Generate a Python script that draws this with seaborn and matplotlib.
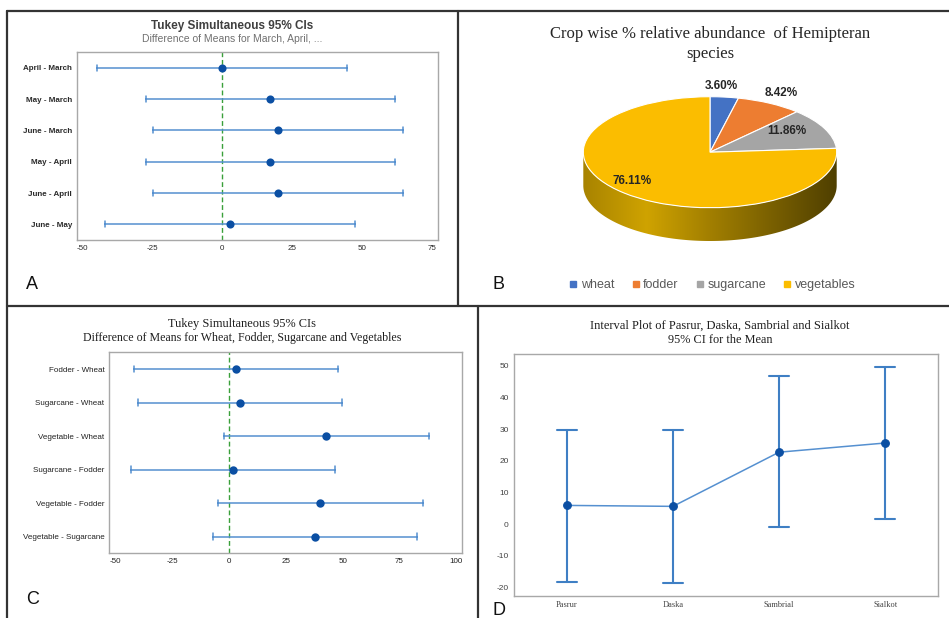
import numpy as np
import pandas as pd
import matplotlib
matplotlib.use("Agg")
import matplotlib.pyplot as plt
import seaborn as sns
from matplotlib.lines import Line2D
from matplotlib.patches import Polygon
from matplotlib.colors import LinearSegmentedColormap

# =====================================================================
# DATA
# =====================================================================
# A: Tukey CIs for months
pairs_A = ["April - March", "May - March", "June - March", "May - April", "June - April", "June - May"]
a_low = [-44.7, -27.3, -24.9, -27.3, -24.9, -41.9]
a_mean = [0.0, 17.2, 19.9, 17.2, 20.0, 2.8]
a_high = [44.7, 62.0, 64.8, 62.0, 64.8, 47.7]

# B: crop wise % relative abundance
crops = ["wheat", "fodder", "sugarcane", "vegetables"]
crop_share = [3.60, 8.42, 11.86, 76.11]
crop_labels = ["3.60%", "8.42%", "11.86%", "76.11%"]

# C: Tukey CIs for crops
pairs_C = ["Fodder - Wheat", "Sugarcane - Wheat", "Vegetable - Wheat",
           "Sugarcane - Fodder", "Vegetable - Fodder", "Vegetable - Sugarcane"]
c_low = [-42.0, -40.2, -2.3, -43.0, -4.9, -7.1]
c_mean = [2.9, 4.7, 42.7, 1.9, 40.1, 37.9]
c_high = [48.0, 49.7, 88.1, 46.8, 85.2, 82.9]

# D: interval plot per site
sites = ["Pasrur", "Daska", "Sambrial", "Sialkot"]
d_low = [-18.2, -18.5, -1.0, 1.5]
d_mean = [5.9, 5.6, 22.7, 25.6]
d_high = [29.7, 29.7, 46.8, 49.7]

# =====================================================================
# STYLE
# =====================================================================
sns.set_style("white")
plt.rcParams["font.family"] = ["Liberation Sans", "DejaVu Sans"]
plt.rcParams["axes.unicode_minus"] = False
SERIF = ["Liberation Serif", "DejaVu Serif"]

W, H = 949, 618
DARK_BLUE = "#0b4fa3"
LIGHT_BLUE = "#5590d0"
GREEN = "#3aa03a"
FRAME = "#a8a8a8"
crop_colors = ["#4472c4", "#ed7d31", "#a5a5a5", "#fbbd00"]


def px(x, y):
    return x / W, 1 - y / H


def box(x0, y0, x1, y1):
    return [x0 / W, 1 - y1 / H, (x1 - x0) / W, (y1 - y0) / H]


def interval_frame(names, low, mid, high, label):
    # three rows per group -> median is the mean, 100% interval is the CI
    return pd.DataFrame({
        label: np.repeat(names, 3),
        "value": np.column_stack([low, mid, high]).ravel(),
    })


def style_frame(ax):
    for s in ax.spines.values():
        s.set_color(FRAME)
        s.set_linewidth(1.0)
    ax.tick_params(length=2, width=0.6, color="#888888", pad=1.5)


fig = plt.figure(figsize=(W / 100, H / 100), dpi=100)

# =====================================================================
# A
# =====================================================================
axA = fig.add_axes(box(77, 52, 438, 240))
dfA = interval_frame(pairs_A, a_low, a_mean, a_high, "pair")
sns.pointplot(data=dfA, x="value", y="pair", order=pairs_A, estimator="median",
              errorbar=("pi", 100), linestyle="none", color=DARK_BLUE,
              markers="o", markersize=3.8, capsize=0.19,
              err_kws={"color": LIGHT_BLUE, "linewidth": 1.1}, ax=axA)
axA.lines[0].set_zorder(4)
axA.axvline(0, color=GREEN, lw=1.0, ls=(0, (3.5, 2)), zorder=1)
axA.set_xlim(-52, 77.3)
axA.set_xticks([-50, -25, 0, 25, 50, 75])
axA.set_xlabel("")
axA.set_ylabel("")
style_frame(axA)
axA.tick_params(axis="both", labelsize=5.8, labelcolor="#2a2a2a")
for t in axA.get_yticklabels():
    t.set_fontweight("bold")

fig.text(*px(232, 26), "Tukey Simultaneous 95% CIs", ha="center", va="center",
         fontsize=8.5, fontweight="bold", color="#404040")
fig.text(*px(232, 39.5), "Difference of Means for March, April, ...", ha="center",
         va="center", fontsize=7.5, color="#707070")

# =====================================================================
# B (3D-looking pie)
# =====================================================================
depth = 0.6
axB = fig.add_axes(box(583.3, 96.7, 836.7, 96.7 + 55.5 * (2 + depth)))
t = np.linspace(np.pi, 2 * np.pi, 300)
side_x = np.concatenate([np.cos(t), np.cos(t[::-1])])
side_y = np.concatenate([np.sin(t), np.sin(t[::-1]) - depth])
side = Polygon(np.column_stack([side_x, side_y]), closed=True, facecolor="none", edgecolor="none")
axB.add_patch(side)
side_cmap = LinearSegmentedColormap.from_list(
    "side", [(0, "#a88300"), (0.25, "#cfa300"), (0.5, "#a27f00"), (1, "#4f3f00")])
grad = axB.imshow(np.linspace(0, 1, 256)[None, :], cmap=side_cmap, aspect="auto",
                  extent=(-1, 1, -1 - depth, 0), zorder=0)
grad.set_clip_path(side)
axB.pie(crop_share, colors=crop_colors, startangle=90, counterclock=False, radius=1,
        wedgeprops={"edgecolor": "white", "linewidth": 0.8})
axB.set_aspect("auto")
axB.set_xlim(-1, 1)
axB.set_ylim(-1 - depth, 1)
axB.axis("off")

label_pos = [(0.087, 1.19), (0.56, 1.07), (0.61, 0.38), (-0.615, -0.52)]
for (lx, ly), lab in zip(label_pos, crop_labels):
    axB.text(lx, ly, lab, ha="center", va="center", fontsize=8.5,
             fontweight="bold", color="#262626")

fig.text(*px(710, 44), "Crop wise % relative abundance  of Hemipteran\nspecies",
         ha="center", va="center", fontsize=12, family=SERIF, color="#262626",
         linespacing=1.3)

handles = [Line2D([], [], marker="s", ls="none", markersize=4, color=c) for c in crop_colors]
fig.legend(handles, crops, loc="center", bbox_to_anchor=px(712, 285), ncol=4,
           frameon=False, fontsize=9, handletextpad=0.2, columnspacing=1.3,
           handlelength=0.8, labelcolor="#595959")

# =====================================================================
# C
# =====================================================================
axC = fig.add_axes(box(109.3, 352.3, 462.3, 553.3))
dfC = interval_frame(pairs_C, c_low, c_mean, c_high, "pair")
sns.pointplot(data=dfC, x="value", y="pair", order=pairs_C, estimator="median",
              errorbar=("pi", 100), linestyle="none", color=DARK_BLUE,
              markers="o", markersize=4, capsize=0.19,
              err_kws={"color": LIGHT_BLUE, "linewidth": 1.1}, ax=axC)
axC.lines[0].set_zorder(4)
axC.axvline(0, color=GREEN, lw=1.0, ls=(0, (3.5, 2)), zorder=1)
axC.set_xlim(-52.7, 102.7)
axC.set_xticks([-50, -25, 0, 25, 50, 75, 100])
axC.set_xlabel("")
axC.set_ylabel("")
style_frame(axC)
axC.tick_params(axis="both", labelsize=5.8, labelcolor="#222222")

fig.text(*px(242, 324.5), "Tukey Simultaneous 95% CIs", ha="center", va="center",
         fontsize=8.9, family=SERIF, color="#1e1e1e")
fig.text(*px(242, 338.5), "Difference of Means for Wheat, Fodder, Sugarcane and Vegetables",
         ha="center", va="center", fontsize=8.6, family=SERIF, color="#1e1e1e")

# =====================================================================
# D
# =====================================================================
axD = fig.add_axes(box(513.7, 354.3, 938.3, 595.7))
dfD = interval_frame(sites, d_low, d_mean, d_high, "site")
sns.pointplot(data=dfD, x="site", y="value", order=sites, estimator="median",
              errorbar=("pi", 100), color=DARK_BLUE, markers="o", markersize=5.5,
              linewidth=1.1, capsize=0.19,
              err_kws={"color": "#3f7fc4", "linewidth": 1.5}, ax=axD)
mean_line = axD.lines[0]
mean_line.set_color(LIGHT_BLUE)
mean_line.set_markerfacecolor(DARK_BLUE)
mean_line.set_markeredgecolor(DARK_BLUE)
mean_line.set_zorder(4)
axD.set_ylim(-22.6, 53.6)
axD.set_yticks(range(-20, 51, 10))
axD.set_xlabel("")
axD.set_ylabel("")
style_frame(axD)
axD.tick_params(axis="y", labelsize=6, labelcolor="#444444")
axD.tick_params(axis="x", labelsize=6, labelcolor="#444444")
for t in axD.get_xticklabels():
    t.set_family(SERIF)

fig.text(*px(720, 325.5), "Interval Plot of Pasrur, Daska, Sambrial and Sialkot",
         ha="center", va="center", fontsize=9, family=SERIF, color="#1e1e1e")
fig.text(*px(720, 340), "95% CI for the Mean", ha="center", va="center",
         fontsize=8.8, family=SERIF, color="#1e1e1e")

# =====================================================================
# PANEL LETTERS AND BORDERS
# =====================================================================
for letter, (lx, ly) in zip("ABCD", [(26, 289), (493, 289), (26, 604), (493, 615)]):
    fig.text(*px(lx, ly), letter, ha="left", va="baseline", fontsize=13, color="#111111")

border = dict(color="#333333", lw=1.6, transform=fig.transFigure)
for (x0, y0), (x1, y1) in [((6.5, 10.5), (949, 10.5)), ((6.5, 10.5), (6.5, 618)),
                           ((458, 10.5), (458, 305.5)), ((6.5, 305.5), (949, 305.5)),
                           ((478, 305.5), (478, 618))]:
    fig.add_artist(Line2D([x0 / W, x1 / W], [1 - y0 / H, 1 - y1 / H], **border))

fig.savefig("out.png", dpi=100)
